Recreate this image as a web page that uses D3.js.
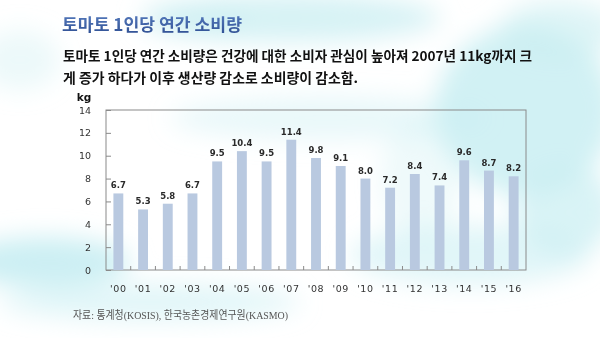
<!DOCTYPE html>
<html><head><meta charset="utf-8">
<script src="https://cdn.jsdelivr.net/npm/d3@7"></script>
<style>
html,body{margin:0;padding:0;background:#fff;}
svg{display:block;}
</style></head>
<body>
<svg id="c" width="600" height="338"></svg>
<script>
const years = ["'00","'01","'02","'03","'04","'05","'06","'07","'08","'09","'10","'11","'12","'13","'14","'15","'16"];
const consumption = [6.7,5.3,5.8,6.7,9.5,10.4,9.5,11.4,9.8,9.1,8.0,7.2,8.4,7.4,9.6,8.7,8.2];
const yTicks = [0,2,4,6,8,10,12,14];
const titleText = "토마토 1인당 연간 소비량";
const bodyLines = ["토마토 1인당 연간 소비량은 건강에 대한 소비자 관심이 높아져 2007년 11kg까지 크","게 증가 하다가 이후 생산량 감소로 소비량이 감소함."];
const unitText = "kg";
const sourceText = "자료: 통계청(KOSIS), 한국농촌경제연구원(KASMO)";

const svg = d3.select("#c");
const defs = svg.append("defs");
const blur = defs.append("filter").attr("id","blur").attr("x","-50%").attr("y","-50%").attr("width","200%").attr("height","200%");
blur.append("feGaussianBlur").attr("stdDeviation",12);
const tg = defs.append("linearGradient").attr("id","tg").attr("x1",0).attr("y1",0).attr("x2",0).attr("y2",1);
tg.append("stop").attr("offset","0%").attr("stop-color","#5a80c2");
tg.append("stop").attr("offset","100%").attr("stop-color","#2c4c90");

// background clouds
svg.append("rect").attr("width",600).attr("height",338).attr("fill","#ffffff");
const clouds = svg.append("g").attr("filter","url(#blur)").attr("fill","#c9eef2");
[[290,18,150,24,0.75],[525,110,90,85,0.85],[560,30,60,30,0.6],[45,262,85,25,0.95],[150,302,150,18,0.55],[470,255,120,30,0.55],[20,60,40,30,0.35],[330,118,160,22,0.4],[565,210,50,45,0.7],[200,22,50,14,0.5],[420,180,40,60,0.3]]
  .forEach(c=>clouds.append("ellipse").attr("cx",c[0]).attr("cy",c[1]).attr("rx",c[2]).attr("ry",c[3]).attr("opacity",c[4]));

// title
svg.append("text").attr("x",62).attr("y",31).text(titleText)
  .attr("font-family","'Noto Sans CJK KR'").attr("font-weight",700).attr("font-size",17).attr("fill","url(#tg)")
  .attr("textLength",180).attr("lengthAdjust","spacingAndGlyphs");
bodyLines.forEach((t,i)=>{
  svg.append("text").attr("x",63).attr("y",61+i*22).text(t)
    .attr("font-family","'Noto Sans CJK KR'").attr("font-weight",700).attr("font-size",13.5).attr("fill","#111")
    .attr("textLength", i===0?469:295).attr("lengthAdjust","spacingAndGlyphs");
});

const L=106,R=526,T=110,B=270;
const x = d3.scaleBand().domain(years).range([L,R]).paddingInner(0.6).paddingOuter(0.3);
const y = d3.scaleLinear().domain([0,14]).range([B,T]);

const g = svg.append("g");
g.append("rect").attr("x",L).attr("y",T).attr("width",R-L).attr("height",B-T)
  .attr("fill","none").attr("stroke","#8a8a8a").attr("stroke-width",1);

// y axis
const ya = g.append("g").attr("transform",`translate(${L},0)`)
  .call(d3.axisLeft(y).tickValues(yTicks).tickSize(-5).tickPadding(15).tickFormat(d3.format("d")));
ya.select(".domain").remove();
ya.selectAll("line").attr("stroke","#8a8a8a");
ya.selectAll("text").attr("font-family","'DejaVu Sans'").attr("font-size",9.5).attr("fill","#333");

// x axis
const xa = g.append("g").attr("transform",`translate(0,${B})`)
  .call(d3.axisBottom(x).tickSize(0).tickPadding(15));
xa.select(".domain").remove();
xa.selectAll("text").attr("font-family","'DejaVu Sans'").attr("font-size",9.5).attr("fill","#333").attr("letter-spacing",0.6);
// category separators (inner ticks)
const step = x.step();
g.selectAll(".sep").data(years.slice(1)).join("line")
  .attr("x1",d=>x(d)-(step-x.bandwidth())/2).attr("x2",d=>x(d)-(step-x.bandwidth())/2)
  .attr("y1",B).attr("y2",B-4).attr("stroke","#8a8a8a");

// bars
g.selectAll(".bar").data(consumption).join("rect")
  .attr("x",(d,i)=>x(years[i])).attr("width",x.bandwidth())
  .attr("y",d=>y(d)).attr("height",d=>B-y(d)).attr("fill","#b9c9e0");
g.selectAll(".lbl").data(consumption).join("text")
  .attr("x",(d,i)=>x(years[i])+x.bandwidth()/2).attr("y",d=>y(d)-5)
  .attr("text-anchor","middle").text(d=>d.toFixed(1))
  .attr("font-family","'DejaVu Sans'").attr("font-weight",700).attr("font-size",8.5).attr("fill","#2a2a2a");

svg.append("text").attr("x",84).attr("y",101).attr("text-anchor","middle").text(unitText)
  .attr("font-family","'DejaVu Sans'").attr("font-weight",700).attr("font-size",10.5).attr("fill","#111");

svg.append("text").attr("x",73).attr("y",319).text(sourceText)
  .attr("font-family","'Liberation Serif','Noto Sans CJK KR'").attr("font-size",11).attr("fill","#555")
  .attr("textLength",215).attr("lengthAdjust","spacingAndGlyphs");
</script>
</body></html>
